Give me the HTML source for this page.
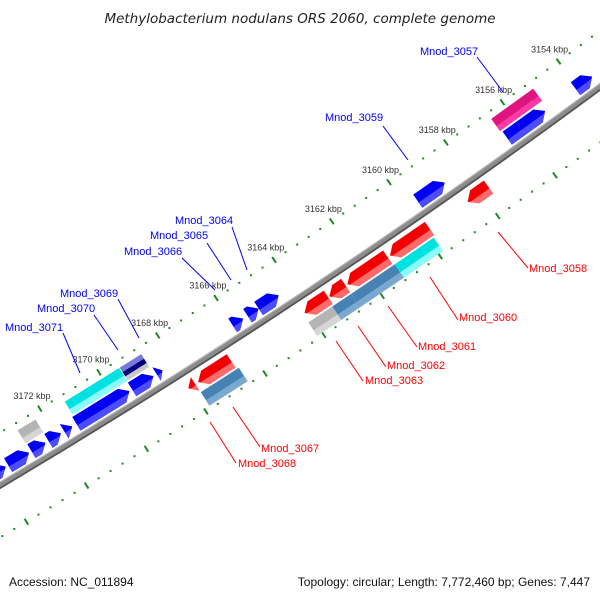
<!DOCTYPE html>
<html><head><meta charset="utf-8"><style>
html,body{margin:0;padding:0;background:#fff;}
svg{display:block;font-family:"Liberation Sans",sans-serif;}
</style></head><body>
<svg id="chart" width="600" height="600" viewBox="0 0 600 600" xmlns="http://www.w3.org/2000/svg">
<rect width="600" height="600" fill="#fff"/>
<text x="300" y="23" text-anchor="middle" font-size="13.5" font-style="italic" fill="#222" style="font-family:'DejaVu Sans',sans-serif">Methylobacterium nodulans ORS 2060, complete genome</text>
<g id="ticks"></g>
<g id="backbone"></g>
<g id="genes"></g>
<g id="labels"></g>
<text x="9" y="586" font-size="12" fill="#111">Accession: NC_011894</text>
<text x="590" y="586" text-anchor="end" font-size="12" fill="#111">Topology: circular; Length: 7,772,460 bp; Genes: 7,447</text>
</svg>
<script>
// ---- data ----
var geneStart = [3153.48,3155.15,3158.69,3165.67,3165.14,3164.45,3169.54,3168.73,3168.42,3171.47,3171.85,3172.37,3172.92,3173.70,
                 3155.05,3169.44,3168.69,3172.27,
                 3157.74,3159.80,3161.25,3162.70,3163.30,3166.62,3167.84,
                 3159.85,3161.20,3162.70,3163.35,3166.54];
var geneEnd   = [3154.07,3156.49,3159.63,3166.03,3165.52,3165.14,3171.33,3169.45,3168.62,3171.74,3172.27,3172.84,3173.62,3175.00,
                 3156.54,3171.28,3169.42,3172.87,
                 3158.47,3161.17,3162.64,3163.26,3164.11,3167.74,3168.07,
                 3161.20,3162.70,3163.35,3164.17,3167.83];
var geneTrack = [1,1,1,1,1,1,1,1,1,1,1,1,1,1, 2,2,2,2, 3,3,3,3,3,3,3, 4,4,4,4,4];
var geneKind  = ["blue","blue","blue","blue","blue","blue","blue","blue","blue","blue","blue","blue","blue","blue",
                 "pink","cyan","slate","gray",
                 "red","red","red","red","red","red","red",
                 "cyan","steel","steel","gray","steel"];
var tickLabels = ["3154 kbp","3156 kbp","3158 kbp","3160 kbp","3162 kbp","3164 kbp","3166 kbp","3168 kbp","3170 kbp","3172 kbp"];
var tickLabelKbp = [3154,3156,3158,3160,3162,3164,3166,3168,3170,3172];
var labelNames = ["Mnod_3057","Mnod_3059","Mnod_3064","Mnod_3065","Mnod_3066","Mnod_3069","Mnod_3070","Mnod_3071",
                  "Mnod_3058","Mnod_3060","Mnod_3061","Mnod_3062","Mnod_3063","Mnod_3067","Mnod_3068"];
var labelX = [420,325,175,150,124,60,37,5, 529,459,418,387,365,261,238];
var labelY = [55,121,224,239,255,297,312,331, 272,321,350,369,384,452,467];
var lineX1 = [477,383,232,207,182,118,94,63, 498,430,388,358,336,233,210];
var lineY1 = [57,126,227,243,258,299,315,333, 232,277,306,326,341,407,422];
var lineX2 = [503,408,247,231,215,139,118,80, 528,458,417,386,363,260,236];
var lineY2 = [92,160,270,280,290,338,350,373, 268,320,347,367,381,447,463];

// ---- geometry ----
var CX=-3677, CY=-5704, R0=7199, A0=55.92, DEG_PER_KBP=0.2778;
function pos(k, dr){ var a=(A0+(k-3162)*DEG_PER_KBP)*Math.PI/180; var r=R0+dr; return [CX+r*Math.cos(a), CY+r*Math.sin(a)]; }
function pstr(list){ return list.map(function(p){var q=pos(p[0],p[1]);return q[0].toFixed(2)+","+q[1].toFixed(2);}).join(" "); }
var NS="http://www.w3.org/2000/svg";
function mk(tag, parent){ var e=document.createElementNS(NS,tag); parent.appendChild(e); return e; }
var trackR = {1:[-21,-5],2:[-38,-23],3:[8,24],4:[26,42]};
var colors = {blue:["#0000f2","#4d4dff"],red:["#f20000","#ff6a6a"],cyan:["#00e2e2","#8afcfc"],steel:["#4682b4","#7ba8cf"],
              gray:["#b4b4b4","#d6d6d6"],pink:["#e0147f","#ff3aa6"],slate:["#000080","#c8c8c8"]};

// ticks
var tg=document.getElementById("ticks");
for (var i=-32;i<=38;i++){
  var k=3162+i*0.4;
  var major=(i%5===0);
  [-45,45].forEach(function(d){
    var el;
    if(major){
      var a=pos(k,d-3.5), b=pos(k,d+3.5);
      el=mk("line",tg);
      el.setAttribute("x1",a[0]);el.setAttribute("y1",a[1]);el.setAttribute("x2",b[0]);el.setAttribute("y2",b[1]);
      el.setAttribute("stroke","#1f8a1f");el.setAttribute("stroke-width","2");
      
      
    } else {
      var c=pos(k,d);
      el=mk("rect",tg);
      el.setAttribute("x",c[0]-1);el.setAttribute("y",c[1]-1);el.setAttribute("width",2);el.setAttribute("height",2);
      el.setAttribute("fill","#1f8a1f");
      
      
    }
  });
}
tickLabelKbp.forEach(function(k,j){
  var c=pos(k,-60);
  var t=mk("text",tg);
  t.setAttribute("x",c[0]);t.setAttribute("y",c[1]+3);t.setAttribute("text-anchor","middle");
  t.setAttribute("font-size","9");t.setAttribute("fill","#333");
  t.textContent=tickLabels[j];
  
  
});

// backbone
var bg=document.getElementById("backbone");
[[0,"#8c8c8c",6],[-2.6,"#b8b8b8",1.2],[2.6,"#555555",1.8]].forEach(function(s){
  var a=pos(3148,s[0]), b=pos(3178,s[0]), r=R0+s[0];
  var p=mk("path",bg);
  p.setAttribute("d","M"+a[0]+","+a[1]+" A"+r+","+r+" 0 0 1 "+b[0]+","+b[1]);
  p.setAttribute("fill","none");p.setAttribute("stroke",s[1]);p.setAttribute("stroke-width",s[2]);
  
  
});

// genes
var gg=document.getElementById("genes");
for (var g=0; g<geneStart.length; g++){
  var s=geneStart[g], e=geneEnd[g], tr=geneTrack[g], kind=geneKind[g];
  var r1=trackR[tr][0], r2=trackR[tr][1], rm=(r1+r2)/2, rs=r1+0.6*(r2-r1);
  var col=colors[kind];
  var outline, strip;
  var arrow=(kind==="blue"||kind==="red");
  if (kind==="slate"){
    var b1=r1+(r2-r1)*0.35, b2=r1+(r2-r1)*0.7;
    var p0=mk("polygon",gg);p0.setAttribute("points",pstr([[s,r1],[e,r1],[e,b1],[s,b1]]));p0.setAttribute("fill","#7878d8");
    
    
    var p1=mk("polygon",gg);p1.setAttribute("points",pstr([[s,b1],[e,b1],[e,b2],[s,b2]]));p1.setAttribute("fill","#000080");
    
    
    var p2=mk("polygon",gg);p2.setAttribute("points",pstr([[s,b2],[e,b2],[e,r2],[s,r2]]));p2.setAttribute("fill","#c8c8c8");
    
    
    continue;
  }
  if (arrow){
    var h=Math.min(0.25, e-s);
    if (tr===1){
      var kx=s+h*(rs-rm)/(r2-rm);
      outline=[[e,r1],[s+h,r1],[s,rm],[s+h,r2],[e,r2]];
      strip=[[e,rs],[kx,rs],[s+h,r2],[e,r2]];
    } else {
      var kx2=e-h*(rs-rm)/(r2-rm);
      outline=[[s,r1],[e-h,r1],[e,rm],[e-h,r2],[s,r2]];
      strip=[[s,rs],[kx2,rs],[e-h,r2],[s,r2]];
    }
  } else {
    outline=[[s,r1],[e,r1],[e,r2],[s,r2]];
    strip=[[s,rs],[e,rs],[e,r2],[s,r2]];
  }
  var po=mk("polygon",gg);po.setAttribute("points",pstr(outline));po.setAttribute("fill",col[0]);
  
  
  var ps=mk("polygon",gg);ps.setAttribute("points",pstr(strip));ps.setAttribute("fill",col[1]);
  
  
}

// labels
var lg=document.getElementById("labels");
labelNames.forEach(function(n,j){
  var c=j<8?"#0000ff":"#ff0000";
  var l=mk("line",lg);
  l.setAttribute("x1",lineX1[j]);l.setAttribute("y1",lineY1[j]);l.setAttribute("x2",lineX2[j]);l.setAttribute("y2",lineY2[j]);
  l.setAttribute("stroke",c);l.setAttribute("stroke-width","1");
  
  
  var t=mk("text",lg);
  t.setAttribute("x",labelX[j]);t.setAttribute("y",labelY[j]);t.setAttribute("font-size","11");t.setAttribute("fill",c);
  t.textContent=n;
  
  
});
</script>
</body></html>
